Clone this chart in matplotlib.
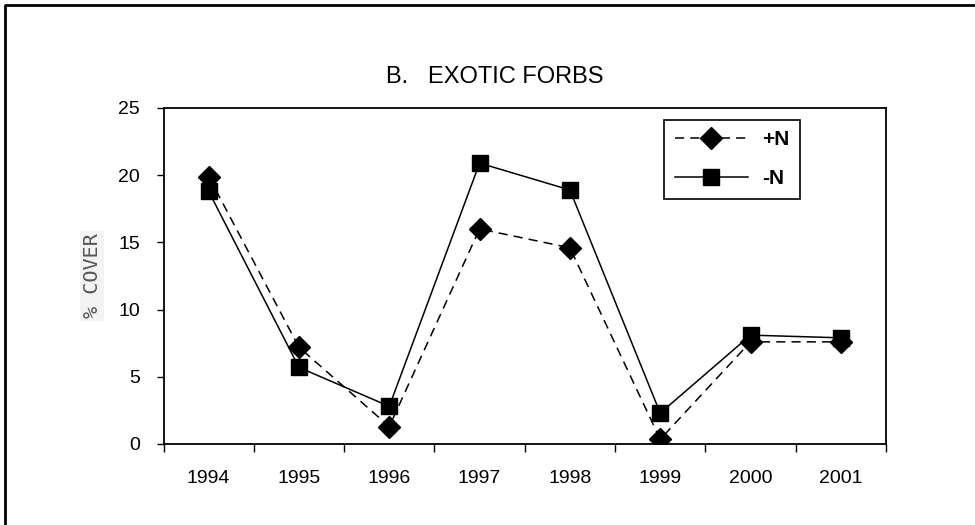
import matplotlib
matplotlib.use("Agg")
import matplotlib.pyplot as plt
from matplotlib.lines import Line2D

years = ["1994", "1995", "1996", "1997", "1998", "1999", "2000", "2001"]
plus_n = [19.9, 7.2, 1.3, 16.0, 14.6, 0.35, 7.6, 7.6]
minus_n = [18.8, 5.7, 2.8, 20.9, 18.9, 2.3, 8.1, 7.9]
y_ticks = [0, 5, 10, 15, 20, 25]

plt.rcParams['font.family'] = ['Liberation Sans', 'DejaVu Sans']

fig = plt.figure(figsize=(9.75, 5.25), dpi=100)
ax = fig.add_axes([163.5 / 975, 1 - 444 / 525, (886 - 163.5) / 975, (444 - 108) / 525])

x = list(range(len(years)))
ax.plot(x, plus_n, color='black', lw=1.1, ls=(0, (6, 4)), marker='D', ms=11,
        mfc='black', mec='black', label='+N', zorder=3)
ax.plot(x, minus_n, color='black', lw=1.1, ls='-', marker='s', ms=12,
        mfc='black', mec='black', label='-N', zorder=4)

ax.set_xlim(-0.5, len(years) - 0.5)
ax.set_ylim(0, 25)
ax.set_yticks(y_ticks)
ax.set_yticklabels([str(v) for v in y_ticks], fontsize=14)
ax.set_xticks(x)
ax.set_xticklabels(years, fontsize=14)
ax.set_xticks([i - 0.5 for i in range(len(years) + 1)], minor=True)
ax.tick_params(axis='x', which='major', length=0, pad=19)
ax.tick_params(axis='x', which='minor', length=6, width=1, direction='out')
ax.tick_params(axis='y', length=5, width=1, direction='out', pad=12)
for s in ax.spines.values():
    s.set_linewidth(1.3)

leg = ax.legend(loc='upper right', bbox_to_anchor=(800 / 975, 1 - 120 / 525),
                bbox_transform=fig.transFigure, frameon=True, fancybox=False,
                framealpha=1, prop={'weight': 'bold', 'size': 15}, handlelength=3.5,
                labelspacing=0.95, borderpad=0.5, handletextpad=0.7, borderaxespad=0)
leg.get_frame().set_edgecolor('black')
leg.get_frame().set_linewidth(1.2)

fig.text(495 / 975, 1 - 77 / 525, "B.   EXOTIC FORBS", ha='center', va='center', fontsize=17)
fig.text(92 / 975, 1 - 276 / 525, "% COVER", rotation=90, ha='center', va='center',
         fontsize=14.5, family='DejaVu Sans Mono', color='#555555',
         bbox=dict(facecolor='#f3f3f3', edgecolor='none', pad=2))

# outer frame (only top and left edges fall inside the image)
fig.add_artist(Line2D([5 / 975, 5 / 975, 1.01], [-0.01, 1 - 5 / 525, 1 - 5 / 525],
                      transform=fig.transFigure, color='black', lw=2.0))

fig.savefig("out.png", dpi=100)
